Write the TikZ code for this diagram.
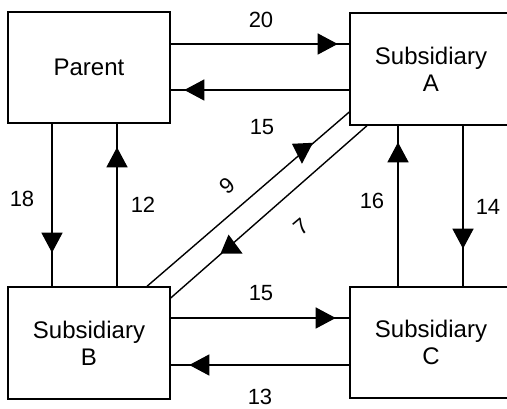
\documentclass[tikz,border=0pt]{standalone}
\usepackage{fontspec}
\setmainfont{Liberation Sans}
\usetikzlibrary{arrows.meta,decorations.markings,calc}
\begin{document}
\begin{tikzpicture}[x=1pt,y=-1pt,line width=1.4pt,
  box/.style={draw,rectangle,inner sep=0pt,align=center,minimum width=162pt,
    font=\fontsize{24}{27}\selectfont},
  lbl/.style={font=\fontsize{22}{24}\selectfont,inner sep=0pt},
  tipat/.style={postaction={decorate,decoration={markings,
    mark=at position #1 with {\arrow{Triangle[length=20pt,width=21pt]}}}}}]
\useasboundingbox (0,0) rectangle (507,409);
\clip (0,0) rectangle (507,409);
% boxes
\node[box,minimum height=111pt] (P) at (89,67.5) {Parent};
\node[box,minimum height=112pt] (A) at (431,69) {Subsidiary\\A};
\node[box,minimum height=112pt] (B) at (89,343) {Subsidiary\\B};
\node[box,minimum height=111pt] (C) at (431,342.5) {Subsidiary\\C};
% horizontal connectors
\draw[tipat=167pt] (P.east |- 0,44) -- (A.west |- 0,44);
\draw[tipat=165pt] (A.west |- 0,90) -- (P.east |- 0,90);
\draw[tipat=165pt] (B.east |- 0,318) -- (C.west |- 0,318);
\draw[tipat=160pt] (C.west |- 0,365) -- (B.east |- 0,365);
% vertical connectors
\draw[tipat=129pt] (P.south -| 52,0) -- (B.north -| 52,0);
\draw[tipat=139pt] (B.north -| 117,0) -- (P.south -| 117,0);
\draw[tipat=144pt] (C.north -| 398,0) -- (A.south -| 398,0);
\draw[tipat=123pt] (A.south -| 463,0) -- (C.north -| 463,0);
% diagonal connectors
\coordinate (d1s) at (A.west |- 0,112);
\coordinate (d1e) at (B.north -| 147,0);
\coordinate (d2s) at (B.east |- 0,298);
\coordinate (d2e) at (A.south -| 367,0);
\draw (d1s) -- (d1e);
\draw (d2s) -- (d2e);
\coordinate (m1) at ($(d1s)!0.234!(d1e)$);
\coordinate (m2) at ($(d2e)!0.69!(d2s)$);
\fill[line width=0pt] ($(m1)+(0,11)$) -- ($(m1)+(-10,-9)$) -- ($(m1)+(11,-10)$) -- cycle;
\fill[line width=0pt] ($(m2)+(-3,-10)$) -- ($(m2)+(-11,9)$) -- ($(m2)+(11,9)$) -- cycle;
% labels
\node[lbl] (l20) at (261,20) {20};
\node[lbl] (l15a) at (262,127) {15};
\node[lbl] (l18) at (22,199) {18};
\node[lbl] (l12) at (143,205) {12};
\node[lbl] (l16) at (372,201) {16};
\node[lbl] (l14) at (488,207) {14};
\node[lbl] (l15b) at (261,293) {15};
\node[lbl] (l13) at (260,397) {13};
\node[lbl,rotate=40] (l9) at (227,186) {9};
\node[lbl,rotate=40] (l7) at (301,227) {7};
\end{tikzpicture}
\end{document}
